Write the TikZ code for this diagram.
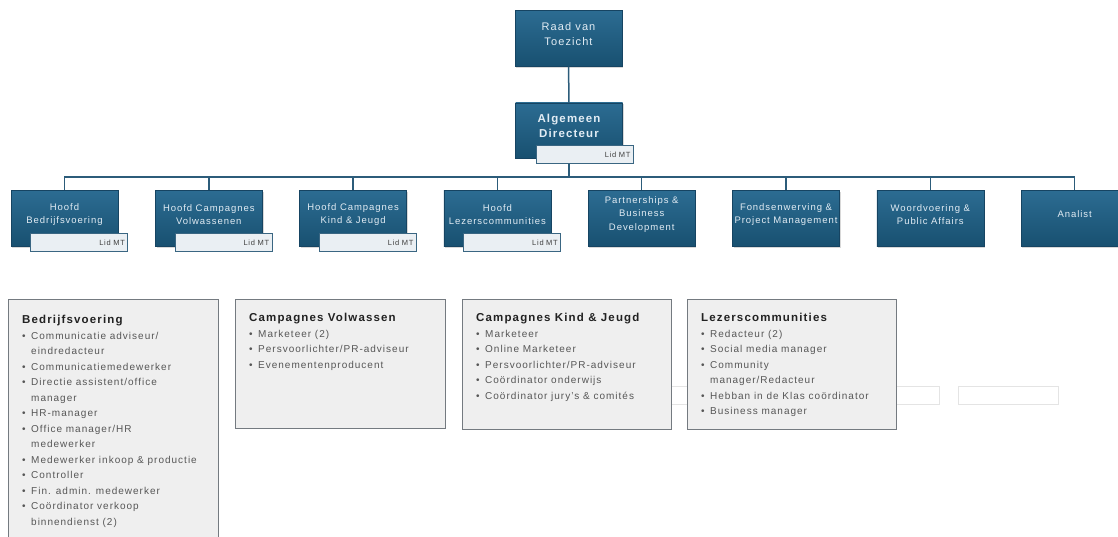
\documentclass[tikz,border=0pt]{standalone}
\usepackage{fontspec}
\setmainfont{Liberation Sans}[LetterSpace=10]
\usetikzlibrary{calc, shadows}

\definecolor{boxtop}{RGB}{44,108,146}
\definecolor{boxbot}{RGB}{24,80,112}
\definecolor{boxedge}{RGB}{22,68,98}
\definecolor{boxtext}{RGB}{226,236,244}
\definecolor{linkcol}{RGB}{44,92,122}
\definecolor{tagfill}{RGB}{234,239,243}
\definecolor{tagedge}{RGB}{58,102,130}
\definecolor{groupfill}{RGB}{239,239,239}
\definecolor{groupedge}{RGB}{116,122,128}
\definecolor{titlecol}{RGB}{34,34,34}
\definecolor{itemcol}{RGB}{86,86,86}
\definecolor{ghostedge}{RGB}{228,228,228}

\newcommand{\itm}{\makebox[9pt][l]{\textbullet}}
\newcommand{\cont}{\hspace*{9pt}}
\newcommand{\grouptitle}[1]{{\color{titlecol}\bfseries\fontsize{11.5}{15.5}\selectfont #1}}

\begin{document}
\begin{tikzpicture}[x=1pt, y=-1pt,
  % Define styles for the chart elements
  rolebox/.style={draw=boxedge, line width=0.5pt, top color=boxtop, bottom color=boxbot,
    minimum width=107pt, minimum height=56pt, inner sep=0pt,
    drop shadow={shadow xshift=1.2pt, shadow yshift=-1.5pt, opacity=0.3}},
  roletext/.style={text=boxtext, align=center, yshift=4pt, font=\fontsize{9.5}{13.5}\selectfont},
  toptext/.style={roletext, font=\fontsize{11}{15}\selectfont},
  tagbox/.style={draw=tagedge, line width=0.8pt, fill=tagfill, anchor=south east,
    text width=91pt, minimum height=18pt, inner xsep=3pt, inner ysep=0pt, align=right,
    font=\fontsize{7.5}{9}\selectfont, text=black!75},
  link/.style={draw=linkcol, line width=1.5pt},
  groupbox/.style={draw=groupedge, line width=1.3pt, fill=groupfill, anchor=north west, inner sep=0pt},
  grouptext/.style={anchor=north west, inner sep=0pt, align=left, text=itemcol,
    font=\fontsize{10}{15.5}\selectfont},
  ghostbox/.style={draw=ghostedge, line width=0.6pt, fill=white, anchor=north west, inner sep=0pt, minimum height=18pt}
]

\fill[white] (0,0) rectangle (1118,537);
\useasboundingbox (0,0) rectangle (1118,537);

% Top: supervisory board and director
\node[rolebox, label={[toptext]center:{Raad van\\Toezicht}}] (raad) at (568.5,38.5) {};
\node[rolebox, minimum height=55pt,
  label={[toptext, font=\bfseries\fontsize{11.5}{15}\selectfont, yshift=1pt]center:{Algemeen\\Directeur}}] (alg) at (569,130.5) {};
\node[tagbox] (lidalg) at ($(alg.south east)+(11,6)$) {Lid MT};

% Row 2: heads and staff
\node[rolebox, label={[roletext]center:{Hoofd\\Bedrijfsvoering}}] (hbedr) at (64.5,218.5) {};
\node[rolebox, label={[roletext]center:{Hoofd Campagnes\\Volwassenen}}] (hcvol) at (208.8,218.5) {};
\node[rolebox, label={[roletext]center:{Hoofd Campagnes\\Kind \& Jeugd}}] (hckj) at (353.1,218.5) {};
\node[rolebox, label={[roletext]center:{Hoofd\\Lezerscommunities}}] (hlez) at (497.4,218.5) {};
\node[rolebox, label={[roletext]center:{Partnerships \&\\Business\\Development}}] (partner) at (641.7,218.5) {};
\node[rolebox, label={[roletext]center:{Fondsenwerving \&\\Project Management}}] (fonds) at (786,218.5) {};
\node[rolebox, label={[roletext]center:{Woordvoering \&\\Public Affairs}}] (woord) at (930.3,218.5) {};
\node[rolebox, label={[roletext]center:{Analist}}] (analist) at (1074.6,218.5) {};

\node[tagbox] (lidbedr) at ($(hbedr.south east)+(10,5)$) {Lid MT};
\node[tagbox] (lidcvol) at ($(hcvol.south east)+(10,5)$) {Lid MT};
\node[tagbox] (lidckj) at ($(hckj.south east)+(10,5)$) {Lid MT};
\node[tagbox] (lidlez) at ($(hlez.south east)+(10,5)$) {Lid MT};

% Connections
\coordinate (bar) at (569,177);
\draw[link] (raad) -- (alg);
\draw[link] (lidalg.south -| alg.south) -- (alg.south |- bar);
\draw[link] (hbedr.north) |- (bar) -| (analist.north);
\draw[link] (hcvol.north) -- (hcvol.north |- bar);
\draw[link] (hckj.north) -- (hckj.north |- bar);
\draw[link] (hlez.north) -- (hlez.north |- bar);
\draw[link] (partner.north) -- (partner.north |- bar);
\draw[link] (fonds.north) -- (fonds.north |- bar);
\draw[link] (woord.north) -- (woord.north |- bar);

% Faint empty boxes behind the groups
\node[ghostbox, minimum width=339pt] (ghost1) at (600,386) {};
\node[ghostbox, minimum width=100pt] (ghost2) at (958,386) {};

% Row 3: departments
\node[groupbox, minimum width=210pt, minimum height=250pt] (gbedr) at (8,299) {};
\node[groupbox, minimum width=210pt, minimum height=129pt] (gcvol) at (235,299) {};
\node[groupbox, minimum width=209pt, minimum height=130pt] (gckj) at (462,299) {};
\node[groupbox, minimum width=209pt, minimum height=130pt] (glez) at (687,299) {};

\node[grouptext] (tbedr) at ($(gbedr.north west)+(14,16)$) {\grouptitle{Bedrijfsvoering}\\
  \itm Communicatie adviseur/\\ \cont eindredacteur\\
  \itm Communicatiemedewerker\\
  \itm Directie assistent/office\\ \cont manager\\
  \itm HR-manager\\
  \itm Office manager/HR\\ \cont medewerker\\
  \itm Medewerker inkoop \& productie\\
  \itm Controller\\
  \itm Fin. admin. medewerker\\
  \itm Coördinator verkoop\\ \cont binnendienst (2)};

\node[grouptext] (tcvol) at ($(gcvol.north west)+(14,14)$) {\grouptitle{Campagnes Volwassen}\\
  \itm Marketeer (2)\\
  \itm Persvoorlichter/PR-adviseur\\
  \itm Evenementenproducent};

\node[grouptext] (tckj) at ($(gckj.north west)+(14,14)$) {\grouptitle{Campagnes Kind \& Jeugd}\\
  \itm Marketeer\\
  \itm Online Marketeer\\
  \itm Persvoorlichter/PR-adviseur\\
  \itm Coördinator onderwijs\\
  \itm Coördinator jury’s \& comités};

\node[grouptext] (tlez) at ($(glez.north west)+(14,14)$) {\grouptitle{Lezerscommunities}\\
  \itm Redacteur (2)\\
  \itm Social media manager\\
  \itm Community\\ \cont manager/Redacteur\\
  \itm Hebban in de Klas coördinator\\
  \itm Business manager};

\end{tikzpicture}
\end{document}
